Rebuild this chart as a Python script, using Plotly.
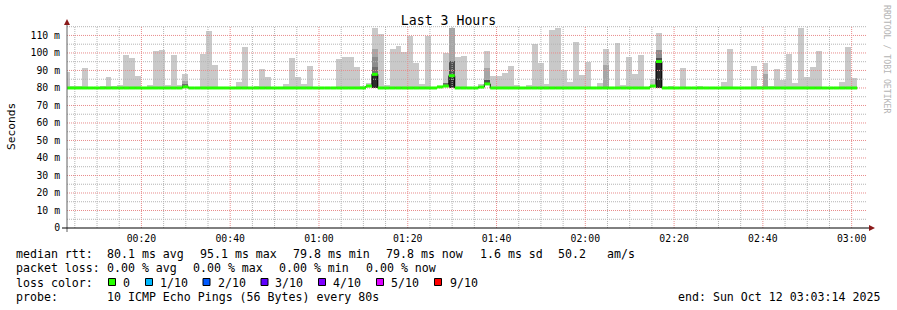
import plotly.graph_objects as go

# ------------------------------------------------------------------ data
STEP_SECONDS = 80
FIRST_STEP_START = "00:02:35"   # first (partially visible) 80 s step
VIEW_START = "00:03:14"
VIEW_END = "03:03:14"

# median round-trip time per step (ms)
median_ms = [
    80.0, 80.0, 80.0, 80.0, 80.0, 80.0, 80.0, 80.0, 80.0, 80.0,
    80.0, 80.0, 80.0, 80.0, 80.0, 80.0, 80.0, 80.0, 80.0, 80.0,
    80.6, 80.0, 80.0, 80.0, 80.0, 80.0, 80.0, 80.0, 80.0, 80.0,
    80.0, 80.0, 80.0, 80.0, 80.0, 80.0, 80.0, 80.0, 80.0, 80.0,
    80.0, 80.0, 80.0, 80.0, 80.0, 80.0, 80.0, 80.0, 80.0, 80.0,
    80.0, 81.1, 87.8, 80.0, 80.0, 80.0, 80.0, 80.0, 80.0, 80.0,
    80.0, 80.0, 80.0, 80.6, 81.1, 87.0, 80.0, 80.0, 80.0, 80.0,
    80.5, 82.3, 80.0, 80.0, 80.0, 80.0, 80.0, 80.0, 80.0, 80.0,
    80.0, 80.0, 80.0, 80.0, 80.0, 80.0, 80.0, 80.0, 80.0, 80.0,
    80.0, 80.0, 80.0, 80.0, 80.0, 80.0, 80.0, 80.0, 80.0, 81.1,
    95.1, 80.0, 80.0, 80.0, 80.0, 80.0, 80.0, 80.0, 80.0, 80.0,
    80.0, 80.0, 80.0, 80.0, 80.0, 80.0, 80.0, 80.0, 80.0, 80.0,
    80.0, 80.0, 80.0, 80.0, 80.0, 80.0, 80.0, 80.0, 80.0, 80.0,
    80.0, 80.0, 80.0, 80.0,
]

# slowest ping per step (top of the smoke, ms)
smoke_max_ms = [
    89.1, 81.1, 81.1, 91.4, 80.0, 80.0, 81.1, 86.3, 81.1, 81.7,
    98.9, 97.1, 86.9, 80.0, 81.7, 101.1, 101.7, 81.7, 98.9, 81.7,
    88.0, 80.0, 80.0, 99.4, 112.6, 93.1, 80.0, 80.0, 80.0, 83.4,
    103.4, 80.0, 81.1, 90.9, 86.3, 80.0, 80.0, 82.3, 97.1, 86.3,
    82.3, 92.6, 80.0, 80.0, 80.0, 80.0, 96.6, 97.7, 97.7, 92.0,
    81.1, 82.9, 114.3, 110.9, 81.7, 102.3, 104.0, 100.6, 109.7, 94.3,
    82.3, 109.7, 80.0, 81.1, 100.0, 114.3, 97.7, 98.3, 80.0, 80.0,
    82.3, 101.1, 86.9, 86.9, 88.6, 92.6, 81.7, 80.0, 81.7, 105.1,
    94.3, 82.3, 113.1, 114.3, 90.3, 83.4, 106.3, 87.4, 94.9, 80.0,
    82.9, 102.3, 80.0, 105.7, 81.7, 97.7, 88.0, 98.9, 80.0, 85.1,
    111.4, 80.0, 81.1, 80.0, 91.4, 80.0, 80.0, 81.1, 80.0, 80.0,
    80.0, 83.4, 102.3, 80.0, 80.0, 80.0, 92.6, 81.1, 94.3, 81.1,
    90.9, 84.6, 99.4, 82.9, 114.3, 86.3, 92.0, 101.1, 80.0, 80.0,
    80.0, 83.4, 103.4, 85.7,
]

# denser smoke bands: (step index, low ms, high ms, shade level)
smoke_bands = [
    (20, 82.0, 84.0, "mid"), (20, 80.6, 82.0, "dark"),
    (52, 97.7, 102.5, "mid"), (52, 92.0, 97.7, "mid2"), (52, 87.8, 92.0, "dark"), (52, 80.0, 87.8, "black"),
    (64, 81.1, 82.9, "dark"),
    (65, 95.4, 114.3, "mid"), (65, 87.0, 95.4, "darker"), (65, 80.0, 87.0, "black"),
    (71, 84.4, 91.4, "mid"), (71, 82.3, 84.4, "darker"),
    (91, 80.0, 93.1, "mid"),
    (100, 97.0, 101.7, "mid2"), (100, 95.1, 97.0, "darker"), (100, 80.0, 95.1, "black"),
    (118, 80.0, 88.0, "mid"),
]

x_tick_labels = ["00:20", "00:40", "01:00", "01:20", "01:40", "02:00", "02:20", "02:40", "03:00"]
y_tick_values = [0, 10, 20, 30, 40, 50, 60, 70, 80, 90, 100, 110]
y_tick_labels = ["0", "10 m", "20 m", "30 m", "40 m", "50 m", "60 m", "70 m", "80 m",
                 "90 m", "100 m", "110 m"]

rtt_stats = ["80.1 ms avg", "95.1 ms max", "79.8 ms min", "79.8 ms now", "1.6 ms sd", "50.2", "am/s"]
loss_stats = ["0.00 % avg", "0.00 % max", "0.00 % min", "0.00 % now"]
loss_labels = ["0", "1/10", "2/10", "3/10", "4/10", "5/10", "9/10"]
loss_colors = ["#26ff00", "#00b8ff", "#0059ff", "#5e00ff", "#7e00ff", "#dd00ff", "#ff0000"]
probe_text = "10 ICMP Echo Pings (56 Bytes) every 80s"
end_text = "end: Sun Oct 12 03:03:14 2025"
title_text = "Last 3 Hours"

# ------------------------------------------------------------------ styles
SHADES = {"light": "#c9c9c9", "mid": "#a6a6a6", "mid2": "#8c8c8c", "dark": "#6e6e6e",
          "darker": "#4e4e4e", "black": "#2a2a2a"}
MONO = "DejaVu Sans Mono"
W, H = 897, 310
ML, MR, MT, MB = 67, 31, 26, 82
PW, PH = W - ML - MR, H - MT - MB
Y_TOP = 115.4


def to_min(s):
    parts = [int(p) for p in s.split(":")]
    return parts[0] * 60 + parts[1] + (parts[2] / 60 if len(parts) > 2 else 0)


def pxx(x):
    return (x - ML) / PW


def pxy(y):
    return (H - MB - y) / PH


step_min = STEP_SECONDS / 60
t0 = to_min(FIRST_STEP_START)
x_lo, x_hi = to_min(VIEW_START), to_min(VIEW_END)
n = len(median_ms)
starts = [t0 + i * step_min for i in range(n)]
centers = [s + step_min / 2 for s in starts]

fig = go.Figure()

# light smoke: median -> slowest ping
fig.add_trace(go.Bar(
    x=centers, base=median_ms,
    y=[max(0.0, t - m) for t, m in zip(smoke_max_ms, median_ms)],
    width=step_min, marker=dict(color=SHADES["light"], line=dict(width=0)),
    hoverinfo="skip", showlegend=False))

# darker bands
for shade in ["mid", "mid2", "dark", "darker", "black"]:
    sel = [b for b in smoke_bands if b[3] == shade]
    if not sel:
        continue
    fig.add_trace(go.Bar(
        x=[centers[b[0]] for b in sel], base=[b[1] for b in sel],
        y=[b[2] - b[1] for b in sel], width=step_min,
        marker=dict(color=SHADES[shade], line=dict(width=0)),
        hoverinfo="skip", showlegend=False))


# grid (drawn above smoke, below the median line)
def grid_trace(xs, ys, color):
    fig.add_trace(go.Scatter(x=xs, y=ys, mode="lines",
                             line=dict(color=color, width=1, dash="1px,1px"),
                             hoverinfo="skip", showlegend=False))


minor_y = [v for v in range(5, int(Y_TOP) + 1, 5) if v % 10 != 0]
major_y = [v for v in range(10, int(Y_TOP) + 1, 10)]
minor_x = [v for v in range(5, int(x_hi) + 1, 5) if v % 20 != 0 and v > x_lo]
major_x = [v for v in range(20, int(x_hi) + 1, 20)]

gx, gy = [], []
for v in minor_y:
    gx += [x_lo, x_hi, None]; gy += [v, v, None]
for v in minor_x:
    gx += [v, v, None]; gy += [0, Y_TOP, None]
grid_trace(gx, gy, "#b4b4b4")
gx, gy = [], []
for v in major_y:
    gx += [x_lo, x_hi, None]; gy += [v, v, None]
for v in major_x:
    gx += [v, v, None]; gy += [0, Y_TOP, None]
grid_trace(gx, gy, "#e88c8c")

# black step outline of the median
fig.add_trace(go.Scatter(
    x=starts + [starts[-1] + step_min], y=median_ms + [median_ms[-1]],
    mode="lines", line=dict(color="#000000", width=1, shape="hv"),
    hoverinfo="skip", showlegend=False))

# green median segments (0 % loss colour)
mx, my = [], []
for s, m in zip(starts, median_ms):
    mx += [s, s + step_min, None]; my += [m, m, None]
fig.add_trace(go.Scatter(x=mx, y=my, mode="lines",
                         line=dict(color=loss_colors[0], width=3),
                         hoverinfo="skip", showlegend=False))

# ------------------------------------------------------------------ axes / layout
fig.update_layout(
    width=W, height=H, autosize=False,
    margin=dict(l=ML, r=MR, t=MT, b=MB, pad=0),
    paper_bgcolor="white", plot_bgcolor="white",
    barmode="overlay", bargap=0,
    font=dict(family=MONO, color="#000000"),
    title=dict(text=title_text, x=0.5, xref="container", xanchor="center",
               y=1 - 20 / H, yref="container", yanchor="middle",
               font=dict(family=MONO, size=13.2, color="#000000")),
    xaxis=dict(range=[x_lo, x_hi], tickvals=[to_min(t) for t in x_tick_labels],
               ticktext=x_tick_labels, showgrid=False, zeroline=False, showline=False,
               ticks="outside", ticklen=1, tickcolor="rgba(0,0,0,0)",
               tickfont=dict(family=MONO, size=9.8, color="#000000")),
    yaxis=dict(range=[0, Y_TOP], tickvals=y_tick_values, ticktext=y_tick_labels,
               showgrid=False, zeroline=False, showline=False,
               ticks="outside", ticklen=4, tickcolor="rgba(0,0,0,0)",
               tickfont=dict(family=MONO, size=9.8, color="#000000")),
)

shapes = []
# axis lines extending past the plot area, with arrow heads
shapes.append(dict(type="line", xref="paper", yref="paper", x0=pxx(67), x1=pxx(67),
                   y0=pxy(232), y1=pxy(22), line=dict(color="#606060", width=1), layer="above"))
shapes.append(dict(type="line", xref="paper", yref="paper", x0=pxx(62), x1=pxx(870),
                   y0=pxy(228), y1=pxy(228), line=dict(color="#000000", width=1), layer="above"))
shapes.append(dict(type="path", xref="paper", yref="paper", layer="above",
                   path=f"M {pxx(64)} {pxy(25)} L {pxx(70)} {pxy(25)} L {pxx(67)} {pxy(19)} Z",
                   fillcolor="#8b1a1a", line=dict(width=0)))
shapes.append(dict(type="path", xref="paper", yref="paper", layer="above",
                   path=f"M {pxx(869)} {pxy(225)} L {pxx(869)} {pxy(231)} L {pxx(875)} {pxy(228)} Z",
                   fillcolor="#8b1a1a", line=dict(width=0)))

annotations = []


def text(x, y, s, size=11.6, anchor="left", color="#000000", angle=0):
    annotations.append(dict(xref="paper", yref="paper", x=pxx(x), y=pxy(y), text=s,
                            showarrow=False, xanchor=anchor, yanchor="middle",
                            textangle=angle, borderpad=0, borderwidth=0,
                            font=dict(family=MONO, size=size, color=color)))


# legend block
text(16, 254.3, "median rtt:")
for s, x in zip(rtt_stats, [107, 199.7, 293, 385.5, 480, 557.5, 606.5]):
    text(x, 254.3, s)
text(16, 268.3, "packet loss:")
for s, x in zip(loss_stats, [107, 193, 279, 365.5]):
    text(x, 268.3, s)
text(16, 282.5, "loss color:")
for lab, col, sq_x, lab_x in zip(loss_labels, loss_colors,
                                 [108.5, 145.5, 203, 261, 318.5, 376.5, 434.5],
                                 [123, 159.7, 217.5, 275, 333, 390.7, 449.7]):
    shapes.append(dict(type="rect", xref="paper", yref="paper", layer="above",
                       x0=pxx(sq_x), x1=pxx(sq_x + 7), y0=pxy(278.5), y1=pxy(285.5),
                       fillcolor=col, line=dict(color="#000000", width=1)))
    text(lab_x, 282.5, lab)
text(16, 296.5, "probe:")
text(107, 296.5, probe_text)
text(880.5, 296.5, end_text, anchor="right")

# axis title and watermark
text(11, 127, "Seconds", size=11.2, anchor="center", angle=-90)
text(887, 59, "RRDTOOL / TOBI OETIKER", size=8.2, anchor="center", color="#b4b4b4", angle=90)

fig.update_layout(shapes=shapes, annotations=annotations)
fig.write_html("out.html")
